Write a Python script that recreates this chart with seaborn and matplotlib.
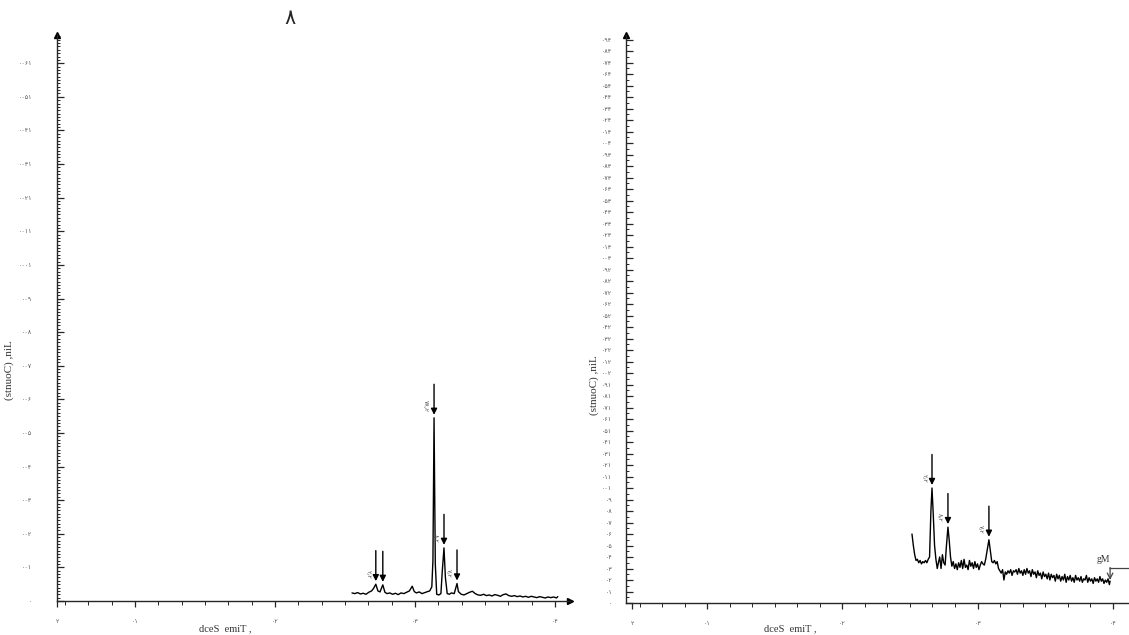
import matplotlib
matplotlib.use("Agg")
import matplotlib.pyplot as plt
from matplotlib.ticker import MultipleLocator, FixedLocator, FuncFormatter
import seaborn as sns
import pandas as pd

# ---------------- data ----------------
left_time = [25.5, 25.7, 25.9, 26.1, 26.3, 26.5, 26.7, 26.9, 27.05, 27.2, 27.35, 27.5, 27.7, 27.85,
             28.0, 28.2, 28.4, 28.6, 28.8, 29.0, 29.2, 29.4, 29.6, 29.8, 29.95, 30.1, 30.3, 30.5,
             30.7, 30.9, 31.05, 31.2, 31.28, 31.36, 31.45, 31.55, 31.7, 31.85, 31.95, 32.07, 32.17,
             32.3, 32.45, 32.6, 32.8, 32.92, 33.0, 33.1, 33.3, 33.5, 33.7, 33.9, 34.1, 34.3, 34.5,
             34.7, 34.9, 35.1, 35.3, 35.5, 35.7, 35.9, 36.1, 36.3, 36.5, 36.7, 36.9, 37.1, 37.3,
             37.5, 37.7, 37.9, 38.1, 38.3, 38.5, 38.7, 38.9, 39.1, 39.3, 39.5, 39.7, 39.9, 40.1, 40.2]
left_counts = [24, 22, 25, 21, 23, 20, 26, 30, 38, 50, 30, 27, 48, 26,
               22, 24, 20, 23, 19, 24, 22, 26, 30, 44, 28, 24, 27, 22,
               25, 28, 30, 42, 120, 545, 110, 20, 18, 22, 90, 158, 70,
               22, 20, 24, 22, 40, 52, 28, 20, 18, 22, 26, 29, 22, 18,
               17, 20, 16, 18, 15, 19, 17, 14, 19, 21, 16, 14, 16, 13,
               15, 12, 14, 11, 14, 12, 10, 13, 11, 9, 12, 10, 12, 9, 13]

right_time = [25.15, 25.25, 25.35, 25.45, 25.55, 25.65, 25.75, 25.85, 25.95, 26.05, 26.15, 26.25,
              26.35, 26.45, 26.55, 26.63, 26.72, 26.82, 26.92, 27.02, 27.12, 27.2, 27.3, 27.4,
              27.5, 27.6, 27.7, 27.81, 27.9, 28.0, 28.1, 28.2, 28.3, 28.4, 28.5, 28.6, 28.7,
              28.8, 28.9, 29.0, 29.1, 29.2, 29.3, 29.4, 29.5, 29.6, 29.7, 29.8, 29.9, 30.0,
              30.1, 30.2, 30.3, 30.4, 30.5, 30.6, 30.7, 30.84, 30.95, 31.05, 31.15, 31.25,
              31.35, 31.45, 31.55, 31.65, 31.75, 31.85, 31.95, 32.05, 32.15, 32.25, 32.35,
              32.45, 32.55, 32.65, 32.75, 32.85, 32.95, 33.05, 33.15, 33.25, 33.35, 33.45,
              33.55, 33.65, 33.75, 33.85, 33.95, 34.05, 34.15, 34.25, 34.35, 34.45, 34.55,
              34.65, 34.75, 34.85, 34.95, 35.05, 35.15, 35.25, 35.35, 35.45, 35.55, 35.65,
              35.75, 35.85, 35.95, 36.05, 36.15, 36.25, 36.35, 36.45, 36.55, 36.65, 36.75,
              36.85, 36.95, 37.05, 37.15, 37.25, 37.35, 37.45, 37.55, 37.65, 37.75, 37.85,
              37.95, 38.05, 38.15, 38.25, 38.35, 38.45, 38.55, 38.65, 38.75, 38.85, 38.95,
              39.05, 39.15, 39.25, 39.35, 39.45, 39.55, 39.65, 39.75, 39.8]
right_counts = [60, 50, 42, 37, 38, 35, 37, 34, 36, 35, 37, 35,
                38, 40, 80, 100, 78, 50, 38, 30, 36, 40, 30, 42,
                35, 33, 50, 66, 55, 40, 32, 36, 30, 34, 29, 35, 31,
                37, 30, 38, 31, 33, 29, 37, 32, 35, 30, 36, 31, 34,
                29, 33, 36, 34, 33, 38, 45, 55, 45, 36, 35, 37,
                34, 36, 30, 28, 26, 29, 20, 27, 25, 28, 26,
                29, 24, 28, 27, 29, 25, 30, 26, 28, 24, 29,
                25, 30, 26, 28, 23, 29, 25, 27, 22, 28, 24,
                26, 21, 27, 23, 25, 21, 26, 20, 25, 22, 24,
                19, 25, 21, 24, 19, 23, 20, 25, 18, 23, 20,
                24, 19, 22, 18, 24, 20, 22, 19, 23, 18, 21,
                20, 24, 18, 22, 19, 21, 17, 22, 19, 21, 18,
                23, 19, 21, 17, 20, 18, 21, 16, 19]

# peaks marked with arrows: (time, counts, label)
left_peak_time = [27.2, 27.7, 31.36, 32.07, 33.0]
left_peak_counts = [50, 48, 545, 158, 52]
left_peak_labels = ["۲٫۲", "", "۷۸٫۲", "۸٫۲", "۷٫۲"]
right_peak_time = [26.63, 27.81, 30.84]
right_peak_counts = [100, 66, 55]
right_peak_labels = ["۲٫۲", "۸٫۲", "۷٫۲"]

x_tick_values = [4.45, 10, 20, 30, 40]
x_tick_labels = ["۲", "۰۱", "۰۲", "۰۳", "۰۴"]
left_ymax = 1684
right_ymax = 494
title_text = "۸"
y_label = "(stnuoC) ,niL"
x_label = "dceS  emiT ,"

# ---------------- style ----------------
sns.set_style("ticks")
plt.rcParams["font.family"] = ["DejaVu Sans"]

PERSIAN = str.maketrans("0123456789", "۰۱۲۳۴۵۶۷۸۹")


def mirrored_persian(v, pos=None):
    s = str(int(round(v))).translate(PERSIAN)
    return s[::-1]


fig = plt.figure(figsize=(11.29, 6.35), dpi=100)
W, H = 1129, 635


def add_axes(x0, x1, ybot, ytop):
    return fig.add_axes([x0 / W, (H - ybot) / H, (x1 - x0) / W, (ybot - ytop) / H])


axL = add_axes(57, 570, 601, 35)
axR = add_axes(626, 1129, 603, 35)

dfL = pd.DataFrame({"t": left_time, "c": left_counts})
dfR = pd.DataFrame({"t": right_time, "c": right_counts})
sns.lineplot(data=dfL, x="t", y="c", ax=axL, color="black", lw=1.0, sort=False)
sns.lineplot(data=dfR, x="t", y="c", ax=axR, color="black", lw=1.0, sort=False)

axL.set_xlim(4.43, 41.07)
axL.set_ylim(0, left_ymax)
axR.set_xlim(4.0, 41.2)
axR.set_ylim(0, right_ymax)

for ax, major, minor, ypad in [(axL, 100, 10, 18), (axR, 10, 5, 10)]:
    sns.despine(ax=ax)
    ax.spines["left"].set_linewidth(1.0)
    ax.spines["bottom"].set_linewidth(1.0)
    ax.set_xlabel("")
    ax.set_ylabel("")
    ax.yaxis.set_major_locator(MultipleLocator(major))
    ax.yaxis.set_minor_locator(MultipleLocator(minor))
    ax.yaxis.set_major_formatter(FuncFormatter(mirrored_persian))
    ax.xaxis.set_major_locator(FixedLocator(x_tick_values))
    ax.set_xticklabels(x_tick_labels)
    ax.xaxis.set_minor_locator(MultipleLocator(10 / 6))
    ax.tick_params(axis="y", which="major", direction="in", length=5, width=0.9,
                   labelsize=4.5, labelcolor="#555555", pad=ypad)
    ax.tick_params(axis="y", which="minor", direction="in", length=2.5, width=0.7)
    ax.tick_params(axis="x", which="major", direction="out", length=4, width=0.9,
                   labelsize=4.5, labelcolor="#555555", pad=9)
    ax.tick_params(axis="x", which="minor", direction="out", length=3, width=0.7)
    # axis arrow at the top of the y axis
    ax.plot(0, 1, "^k", ms=4, transform=ax.transAxes, clip_on=False)

axL.plot(1, 0, ">k", ms=4, transform=axL.transAxes, clip_on=False)


def mark_peaks(ax, ts, cs, labels, px_per_unit):
    for t, c, lab in zip(ts, cs, labels):
        ax.annotate("", xy=(t, c + 3 / px_per_unit), xytext=(0, 22),
                    textcoords="offset points",
                    arrowprops=dict(arrowstyle="-|>", color="black", lw=1.0,
                                    mutation_scale=9, shrinkA=0, shrinkB=0))
        if lab:
            ax.annotate(lab, xy=(t, c), xytext=(-4, 4), textcoords="offset points",
                        rotation=270, fontsize=4.5, color="#555555",
                        ha="right", va="bottom")


mark_peaks(axL, left_peak_time, left_peak_counts, left_peak_labels, 0.336)
mark_peaks(axR, right_peak_time, right_peak_counts, right_peak_labels, 1.15)

# Mg marker at the end of the right trace
axR.annotate("", xy=(right_time[-1], right_counts[-1] + 1), xytext=(0, 9),
             textcoords="offset points",
             arrowprops=dict(arrowstyle="->", color="#444444", lw=0.9, shrinkA=0, shrinkB=0))
axR.annotate("", xy=(right_time[-1], right_counts[-1] + 11), xytext=(14, 0),
             textcoords="offset points",
             arrowprops=dict(arrowstyle="-", color="#444444", lw=0.9, shrinkA=0, shrinkB=0),
             annotation_clip=False)
axR.annotate("gM", xy=(right_time[-1], right_counts[-1] + 11), xytext=(-5, 3),
             textcoords="offset points", fontsize=7, family="Liberation Serif",
             color="#333333", ha="center", va="bottom")

# labels
serif = "Liberation Serif"
fig.text(9 / W, 1 - 370 / H, y_label, rotation=90, ha="center", va="center",
         fontsize=8, family=serif, color="#333333")
fig.text(594 / W, 1 - 385 / H, y_label, rotation=90, ha="center", va="center",
         fontsize=8, family=serif, color="#333333")
fig.text(225 / W, 1.5 / H, x_label, ha="center", va="bottom",
         fontsize=7.5, family=serif, color="#333333")
fig.text(790 / W, 1.5 / H, x_label, ha="center", va="bottom",
         fontsize=7.5, family=serif, color="#333333")
fig.text(290 / W, 1 - 18 / H, title_text, ha="center", va="center", fontsize=15)

fig.savefig("out.png", dpi=100)
